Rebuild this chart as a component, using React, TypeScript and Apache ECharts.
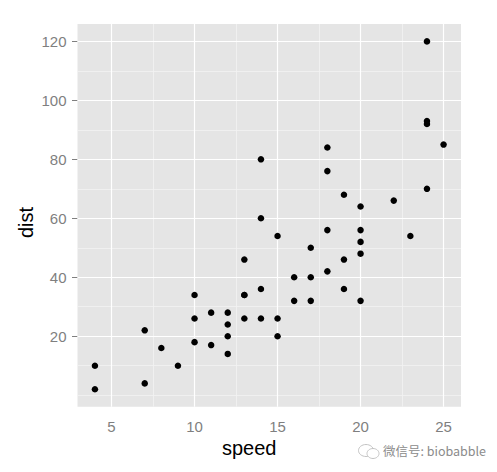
import React, { useEffect, useRef } from "react";
import * as echarts from "echarts";

// cars dataset: stopping distance (ft) vs speed (mph)
const speed = [4, 4, 7, 7, 8, 9, 10, 10, 10, 11, 11, 12, 12, 12, 12, 13, 13, 13, 13, 14, 14, 14, 14, 15, 15, 15, 16, 16, 17, 17, 17, 18, 18, 18, 18, 19, 19, 19, 20, 20, 20, 20, 20, 22, 23, 24, 24, 24, 24, 25];
const dist = [2, 10, 4, 22, 16, 10, 18, 26, 34, 17, 28, 14, 20, 24, 28, 26, 34, 34, 46, 26, 36, 60, 80, 20, 26, 54, 32, 40, 32, 40, 50, 42, 56, 76, 84, 36, 46, 68, 32, 48, 52, 56, 64, 66, 54, 70, 92, 93, 120, 85];

// axis breaks
const xMajor = [5, 10, 15, 20, 25];
const yMajor = [20, 40, 60, 80, 100, 120];
const xMinor = [7.5, 12.5, 17.5, 22.5];
const yMinor = [0, 10, 30, 50, 70, 90, 110];

// limits expanded by 5% of the data range on each side
const expand = (v: number[]) => {
  const lo = Math.min(...v);
  const hi = Math.max(...v);
  const pad = (hi - lo) * 0.05;
  return [lo - pad, hi + pad];
};

const FONT = "'Liberation Sans', Arial, sans-serif";
const TICK_GRAY = "#7F7F7F";

export default function App() {
  const ref = useRef<HTMLDivElement>(null);

  useEffect(() => {
    if (!ref.current) return;
    const chart = echarts.init(ref.current, undefined, { renderer: "svg" });
    const [xMin, xMax] = expand(speed);
    const [yMin, yMax] = expand(dist);

    const axisCommon = {
      type: "value" as const,
      axisLine: { show: false },
      axisTick: { show: true, length: 5.5, lineStyle: { color: TICK_GRAY, width: 1 } },
      splitLine: { show: false },
    };

    const major = [
      ...xMajor.map((v) => ({ xAxis: v })),
      ...yMajor.map((v) => ({ yAxis: v })),
    ];
    const minor = [
      ...xMinor.map((v) => ({ xAxis: v })),
      ...yMinor.map((v) => ({ yAxis: v })),
    ];

    chart.setOption({
      animation: false,
      backgroundColor: "#FFFFFF",
      grid: {
        show: true,
        left: 77.5,
        right: 36,
        top: 24,
        bottom: 65.3,
        backgroundColor: "#E5E5E5",
        borderWidth: 0,
      },
      xAxis: {
        ...axisCommon,
        min: xMin,
        max: xMax,
        axisLabel: {
          color: TICK_GRAY,
          fontSize: 15,
          fontFamily: FONT,
          margin: 12,
          customValues: xMajor,
        },
        axisTick: { ...axisCommon.axisTick, customValues: xMajor },
      },
      yAxis: {
        ...axisCommon,
        min: yMin,
        max: yMax,
        axisLabel: {
          color: TICK_GRAY,
          fontSize: 15,
          fontFamily: FONT,
          margin: 11,
          customValues: yMajor,
        },
        axisTick: { ...axisCommon.axisTick, customValues: yMajor },
      },
      series: [
        {
          type: "scatter",
          data: [],
          silent: true,
          z: 1,
          markLine: {
            z: 1,
            silent: true,
            symbol: "none",
            label: { show: false },
            animation: false,
            lineStyle: { color: "#F2F2F2", width: 0.8, type: "solid" },
            emphasis: { disabled: true },
            data: minor,
          },
        },
        {
          type: "scatter",
          data: [],
          silent: true,
          z: 1,
          markLine: {
            z: 2,
            silent: true,
            symbol: "none",
            label: { show: false },
            animation: false,
            lineStyle: { color: "#FFFFFF", width: 1.2, type: "solid" },
            emphasis: { disabled: true },
            data: major,
          },
        },
        {
          type: "scatter",
          z: 3,
          symbol: "circle",
          symbolSize: 6.5,
          itemStyle: { color: "#000000", opacity: 1 },
          data: speed.map((s, i) => [s, dist[i]]),
        },
      ],
      graphic: [
        {
          type: "text",
          left: 222,
          top: 438,
          style: { text: "speed", fontSize: 20, fontFamily: FONT, fill: "#000" },
        },
        {
          type: "text",
          x: 16,
          y: 238,
          rotation: Math.PI / 2,
          style: { text: "dist", fontSize: 20, fontFamily: FONT, fill: "#000" },
        },
        {
          type: "group",
          left: 356,
          top: 442,
          children: [
            { type: "ellipse", shape: { cx: 8, cy: 7, rx: 7.5, ry: 6 }, style: { fill: "none", stroke: "#C4C4C4", lineWidth: 1 } },
            { type: "ellipse", shape: { cx: 15, cy: 10, rx: 6, ry: 5 }, style: { fill: "#FFFFFF", stroke: "#C4C4C4", lineWidth: 1 } },
          ],
        },
        {
          type: "text",
          left: 383,
          top: 444,
          style: { text: "微信号: biobabble", fontSize: 12.5, fontFamily: "'Noto Sans CJK SC', " + FONT, fill: "#8C8C8C" },
        },
      ],
    });
    return () => chart.dispose();
  }, []);

  return (
    <div
      ref={ref}
      style={{ position: "fixed", left: 0, top: 0, width: 497, height: 472 }}
    />
  );
}
